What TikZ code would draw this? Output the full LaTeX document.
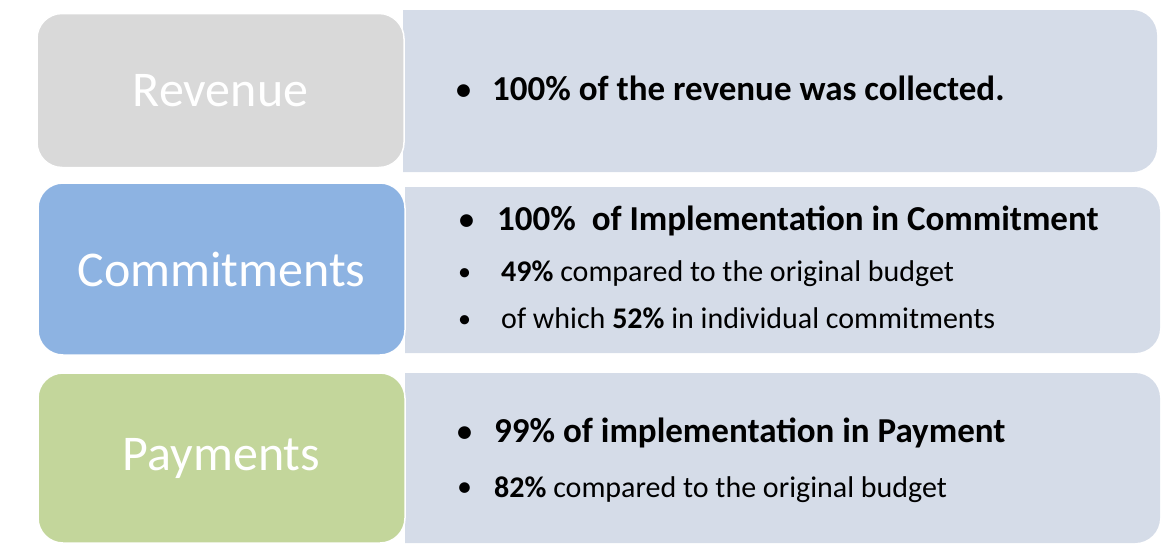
\documentclass[tikz,border=0pt]{standalone}
\usepackage{fontspec}
\setmainfont{Carlito}
\definecolor{revgray}{HTML}{D9D9D9}
\definecolor{comblue}{HTML}{8DB3E2}
\definecolor{paygreen}{HTML}{C3D69B}
\definecolor{panelblue}{HTML}{D5DCE8}
\newcommand{\dotitem}[2][30]{\makebox[#2][l]{\raisebox{1pt}{\fontsize{#1}{30}\selectfont\textbullet}}}

\begin{document}
\begin{tikzpicture}[x=1pt, y=-1pt,
    head/.style={rounded corners=25pt, draw=white, line width=1.5pt, text=white,
        font=\fontsize{50}{60}\selectfont, minimum width=367pt, inner sep=0pt},
    fact/.style={anchor=base west, inner sep=0pt},
    big/.style={font=\fontsize{35}{42}\selectfont\bfseries},
    small/.style={font=\fontsize{30}{36}\selectfont}]
    \useasboundingbox (0,0) rectangle (1171,546);
    % right-hand panels
    \fill[panelblue] (403,10) [rounded corners=25pt] -- (1157,10) -- (1157,172) [sharp corners] -- (403,172) -- cycle;
    \fill[panelblue] (405,187) [rounded corners=25pt] -- (1160,187) -- (1160,353) [sharp corners] -- (405,353) -- cycle;
    \fill[panelblue] (405,373) [rounded corners=25pt] -- (1160,373) -- (1160,543) [sharp corners] -- (405,543) -- cycle;
    % left-hand boxes
    \node (rev)[head, fill=revgray, minimum height=154pt] at (220.5,90.5) {Revenue};
    \node (com)[head, fill=comblue, minimum height=172pt] at (221.5,269) {Commitments};
    \node (pay)[head, fill=paygreen, minimum height=170pt] at (221.5,458) {Payments};
    % revenue
    \node (rev1)[fact, big] at (456,100) {\dotitem{36pt}100\% of the revenue was collected.};
    % commitments
    \node (com1)[fact, big] at (459,230) {\dotitem{38pt}100\%\ \ of Implementation in Commitment};
    \node (com2)[fact, small] at (458,281) {\dotitem[26]{43pt}\textbf{49\%} compared to the original budget};
    \node (com3)[fact, small] at (458,328) {\dotitem[26]{43pt}of which \textbf{52\%} in individual commitments};
    % payments
    \node (pay1)[fact, big] at (457,442) {\dotitem{37pt}99\% of implementation in Payment};
    \node (pay2)[fact, small] at (457,497) {\dotitem{37pt}\textbf{82\%} compared to the original budget};
\end{tikzpicture}
\end{document}
